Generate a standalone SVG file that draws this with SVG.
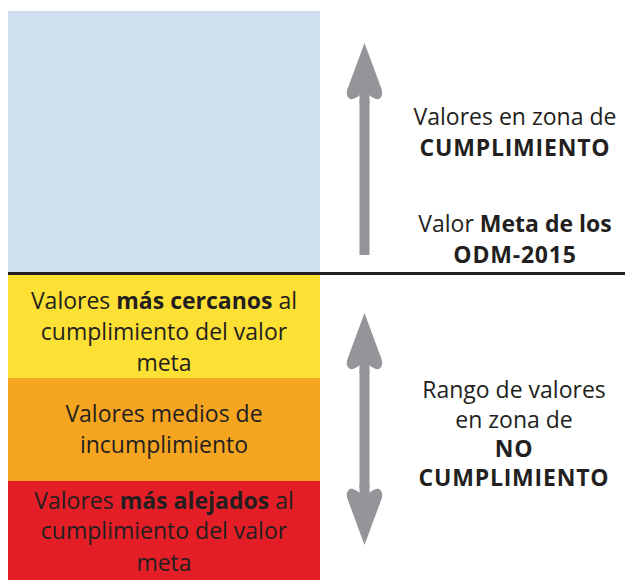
<svg xmlns="http://www.w3.org/2000/svg" width="625" height="580" viewBox="0 0 625 580">
<style>
text{font-family:"Open Sans","Noto Sans","Liberation Sans",sans-serif;font-size:23px;fill:#231f20;text-anchor:middle}
.b{font-weight:bold}
.w{letter-spacing:0.8px}
.arrow{fill:#939598}
</style>
<defs>
<path id="head" d="M0,0 L17,46 C19,52 16.5,57 11.5,56 C8.5,55 5.5,53 5,52 L5,60 L-5,60 L-5,52 C-5.5,53 -8.5,55 -11.5,56 C-16.5,57 -19,52 -17,46 Z"/>
</defs>
<rect width="625" height="580" fill="#fff"/>
<g id="zona-cumplimiento"><rect x="8" y="11" width="312" height="262" fill="#cfdfee"/></g>
<g id="cercanos">
<rect x="8" y="275" width="312" height="103" fill="#fde034"/>
<text x="164" y="309">Valores <tspan class="b">más cercanos</tspan> al</text>
<text x="164" y="340">cumplimiento del valor</text>
<text x="164" y="371">meta</text>
</g>
<g id="medios">
<rect x="8" y="378" width="312" height="103" fill="#f6a520"/>
<text x="164" y="422">Valores medios de</text>
<text x="164" y="453">incumplimiento</text>
</g>
<g id="alejados">
<rect x="8" y="481" width="312" height="99" fill="#e31e26"/>
<text x="164" y="509">Valores <tspan class="b">más alejados</tspan> al</text>
<text x="164" y="539">cumplimiento del valor</text>
<text x="164" y="571">meta</text>
</g>
<g id="meta-line"><line x1="8" y1="273.5" x2="625" y2="273.5" stroke="#231f20" stroke-width="3"/></g>
<g id="label-cumplimiento">
<text x="515" y="125">Valores en zona de</text>
<text x="515" y="156" class="b w">CUMPLIMIENTO</text>
</g>
<g id="label-meta">
<text x="515" y="232">Valor <tspan class="b">Meta de los</tspan></text>
<text x="515" y="263" class="b w">ODM-2015</text>
</g>
<g id="label-no-cumplimiento">
<text x="514" y="398">Rango de valores</text>
<text x="514" y="428">en zona de</text>
<text x="514" y="457" class="b w">NO</text>
<text x="514" y="486" class="b w">CUMPLIMIENTO</text>
</g>
<g id="connectors" class="arrow">
<use href="#head" x="364.5" y="43"/>
<rect x="359.5" y="100" width="10" height="155"/>
<use href="#head" x="364.5" y="313"/>
<use href="#head" transform="translate(364.5,545) scale(1,-1)"/>
<rect x="359.5" y="370" width="10" height="118"/>
</g>
</svg>
